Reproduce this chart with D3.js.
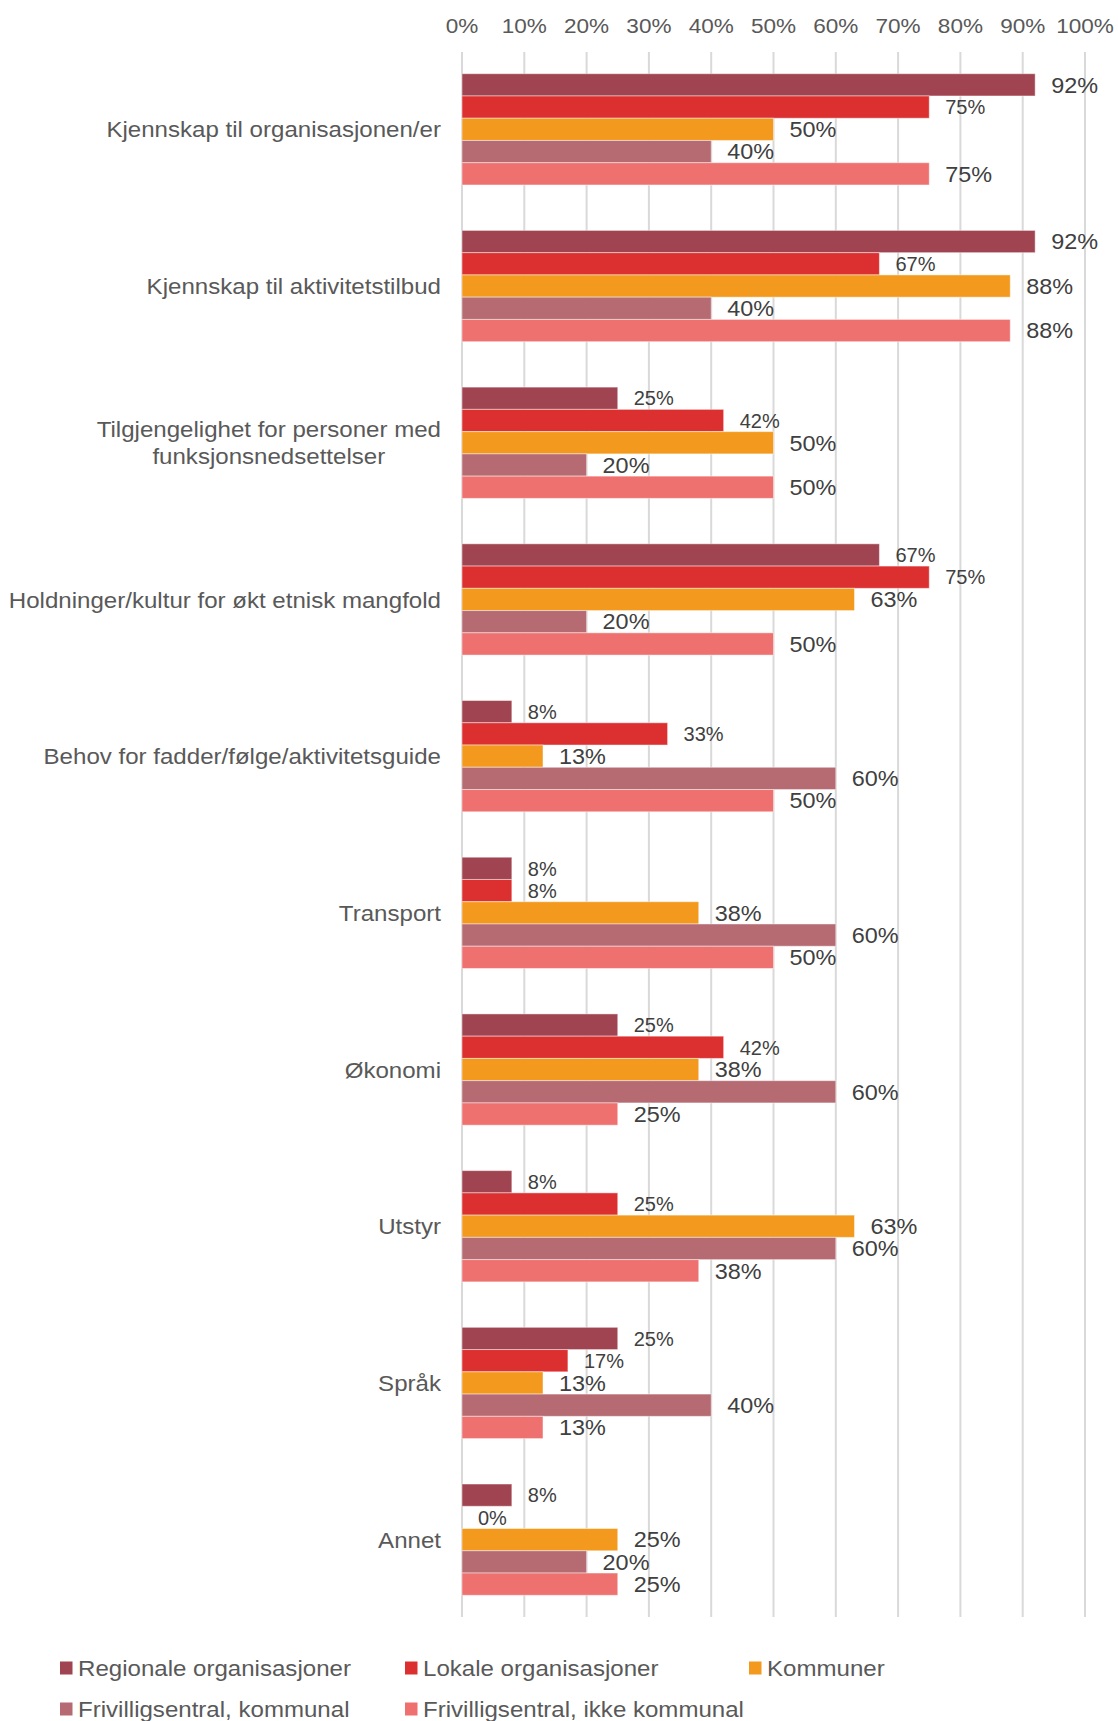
<!DOCTYPE html>
<html>
<head>
<meta charset="utf-8">
<title>Barrierer</title>
<script src="https://cdn.jsdelivr.net/npm/d3@7"></script>
<style>
  body { margin: 0; background: #fff; }
  svg { display: block; font-family: "Liberation Sans", Arial, sans-serif; }
  .tick-label { fill: #595959; font-size: 20.5px; }
  .cat { fill: #595959; font-size: 22.5px; }
  .val { fill: #404040; font-size: 21.5px; }
  .val.small { font-size: 20px; }
  .leg { fill: #595959; font-size: 21.5px; }
</style>
</head>
<body>
<svg width="1118" height="1721"></svg>
<script>
// categories (top to bottom); "\n" splits a label
var categories = [
  "Kjennskap til organisasjonen/er",
  "Kjennskap til aktivitetstilbud",
  "Tilgjengelighet for personer med\nfunksjonsnedsettelser",
  "Holdninger/kultur for økt etnisk mangfold",
  "Behov for fadder/følge/aktivitetsguide",
  "Transport",
  "Økonomi",
  "Utstyr",
  "Språk",
  "Annet"
];
var seriesNames = [
  "Regionale organisasjoner",
  "Lokale organisasjoner",
  "Kommuner",
  "Frivilligsentral, kommunal",
  "Frivilligsentral, ikke kommunal"
];
var colors = ["#a04451", "#dc3030", "#f39a1e", "#b56b71", "#ee7170"];

// percent values per series, in category order
var regionale  = [92, 92, 25, 67,  8,  8, 25,  8, 25,  8];
var lokale     = [75, 67, 42, 75, 33,  8, 42, 25, 17,  0];
var kommuner   = [50, 88, 50, 63, 13, 38, 38, 63, 13, 25];
var frivKomm   = [40, 40, 20, 20, 60, 60, 60, 60, 40, 20];
var frivIkke   = [75, 88, 50, 50, 50, 50, 25, 38, 13, 25];
var series = [regionale, lokale, kommuner, frivKomm, frivIkke];

var ticks = [0, 10, 20, 30, 40, 50, 60, 70, 80, 90, 100];

var svg = d3.select("svg");

var x = d3.scaleLinear().domain([0, 100]).range([462, 1085]);
var y = d3.scaleBand().domain(d3.range(categories.length)).range([51, 1618]).paddingInner(0.29).paddingOuter(0.145);
var yInner = d3.scaleBand().domain(d3.range(series.length)).range([0, y.bandwidth()]);

// the source text is a little wide for its height, so stretch it sideways
function place(t, px, py, sx) {
  t.attr("transform", "translate(" + px + "," + py + ") scale(" + sx + ",1)");
}

// gridlines
svg.append("g").selectAll("line").data(ticks).enter().append("line")
  .attr("x1", function(d) { return x(d); })
  .attr("x2", function(d) { return x(d); })
  .attr("y1", 52).attr("y2", 1617)
  .attr("stroke", "#d9d9d9").attr("stroke-width", 2);

// top tick labels
svg.append("g").selectAll("text").data(ticks).enter().append("text")
  .attr("class", "tick-label")
  .attr("text-anchor", "middle")
  .text(function(d) { return d + "%"; })
  .each(function(d) { place(d3.select(this), x(d), 32.5, 1.1); });

// bars
var groups = svg.append("g").selectAll("g").data(categories).enter().append("g")
  .attr("transform", function(d, i) { return "translate(0," + y(i) + ")"; });

groups.each(function(c, ci) {
  var g = d3.select(this);
  var vals = series.map(function(s) { return s[ci]; });
  g.selectAll("rect").data(vals).enter().append("rect")
    .attr("x", x(0))
    .attr("y", function(d, si) { return yInner(si); })
    .attr("width", function(d) { return x(d) - x(0); })
    .attr("height", yInner.bandwidth())
    .attr("fill", function(d, si) { return colors[si]; })
    .attr("stroke", "rgba(255,255,255,0.45)")
    .attr("stroke-width", 1);
  g.selectAll("text.val").data(vals).enter().append("text")
    .attr("class", function(d, si) { return si < 2 && d < 90 ? "val small" : "val"; })
    .attr("dy", "0.36em")
    .text(function(d) { return d + "%"; })
    .each(function(d, si) {
      place(d3.select(this), x(d) + 16, yInner(si) + yInner.bandwidth() / 2, si < 2 && d < 90 ? 1.0 : 1.09);
    });
});

// category labels: block right-aligned, lines centred
var labelRight = 441, catSX = 1.07;
svg.append("g").selectAll("g").data(categories).enter().append("g")
  .each(function(c, i) {
    var g = d3.select(this);
    var lines = c.split("\n");
    var cy = y(i) + y.bandwidth() / 2;
    var lh = 27;
    var texts = lines.map(function(line) {
      return g.append("text").attr("class", "cat")
        .attr("dy", "0.36em")
        .attr("text-anchor", "middle")
        .text(line);
    });
    var w = d3.max(texts, function(t) { return t.node().getComputedTextLength(); }) * catSX;
    texts.forEach(function(t, li) {
      place(t, labelRight - w / 2, cy + (li - (lines.length - 1) / 2) * lh, catSX);
    });
  });

// legend
var legPos = [[60, 1668], [405, 1668], [749, 1668], [60, 1709], [405, 1709]];
var leg = svg.append("g").selectAll("g").data(seriesNames).enter().append("g")
  .attr("transform", function(d, i) { return "translate(" + legPos[i][0] + "," + legPos[i][1] + ")"; });
leg.append("rect").attr("x", 0).attr("y", -6.5).attr("width", 12.5).attr("height", 13)
  .attr("fill", function(d, i) { return colors[i]; });
leg.append("text").attr("class", "leg").attr("dy", "0.36em")
  .text(function(d) { return d; })
  .each(function() { place(d3.select(this), 18, 0, 1.12); });
</script>
</body>
</html>
